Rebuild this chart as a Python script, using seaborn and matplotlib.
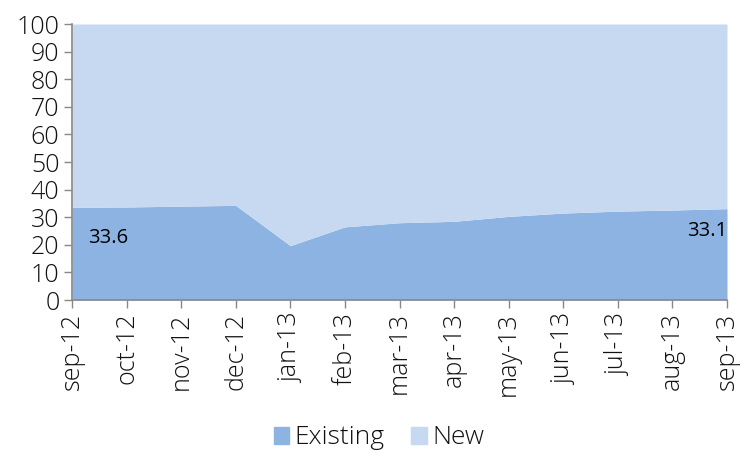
import matplotlib
matplotlib.use("Agg")
import matplotlib.pyplot as plt
import matplotlib.patches as mpatches
import seaborn as sns
import numpy as np

# data
months = ["sep-12", "oct-12", "nov-12", "dec-12", "jan-13", "feb-13", "mar-13",
          "apr-13", "may-13", "jun-13", "jul-13", "aug-13", "sep-13"]
existing = [33.6, 33.7, 34.0, 34.3, 19.7, 26.5, 28.0, 28.5, 30.3, 31.5, 32.2, 32.6, 33.1]
new = [100 - v for v in existing]

sns.set_style("white")
plt.rcParams['font.family'] = ['Open Sans', 'DejaVu Sans']

c_existing = '#8DB3E2'
c_new = '#C6D9F1'
grey = '#888888'

fig = plt.figure(figsize=(7.43, 4.54), dpi=100)
ax = fig.add_axes([72 / 743, 1 - 300 / 454, 655 / 743, 276 / 454])

x = np.arange(len(months))
ax.stackplot(x, existing, new, colors=[c_existing, c_new], linewidth=0)

ax.set_xlim(0, len(months) - 1)
ax.set_ylim(0, 100)
ax.set_yticks(range(0, 101, 10))
ax.set_xticks(x)
ax.set_xticklabels(months, rotation=90)

for lab in ax.get_xticklabels() + ax.get_yticklabels():
    lab.set_fontsize(18)
    lab.set_fontweight('light')
    lab.set_color('#111111')

ax.tick_params(axis='both', direction='out', length=6, width=1, color=grey,
               left=True, bottom=True, pad=3)
for side in ['top', 'right']:
    ax.spines[side].set_visible(False)
for side in ['left', 'bottom']:
    ax.spines[side].set_color(grey)
    ax.spines[side].set_linewidth(1.2)

# value labels at the ends
ax.text(0.3, 22.5, f"{existing[0]}", fontsize=14.5, family=['Open Sans', 'DejaVu Sans'],
        va='center', ha='left', color='black')
ax.text(len(months) - 1, 25, f"{existing[-1]}", fontsize=14.5,
        family=['Open Sans', 'DejaVu Sans'], va='center', ha='right', color='black')

handles = [mpatches.Patch(color=c_existing, label='Existing'),
           mpatches.Patch(color=c_new, label='New')]
leg = fig.legend(handles=handles, loc='center', bbox_to_anchor=(0.51, 1 - 438 / 454),
                 ncol=2, frameon=False, handlelength=0.6, handleheight=0.6,
                 handletextpad=0.2, columnspacing=1.0,
                 prop={'size': 19, 'weight': 'light'})
for t in leg.get_texts():
    t.set_color('#111111')

fig.savefig("out.png", dpi=100)
